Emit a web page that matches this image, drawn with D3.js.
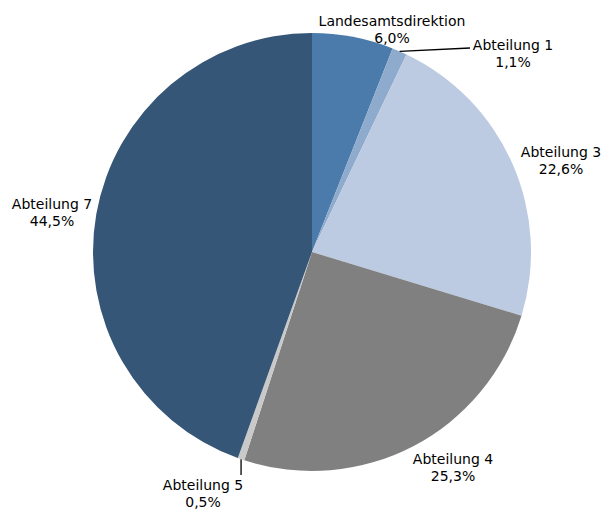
<!DOCTYPE html>
<html>
<head>
<meta charset="utf-8">
<script src="https://cdn.jsdelivr.net/npm/d3@7"></script>
<style>
  body { margin: 0; background: #fff; }
  text { font-family: "DejaVu Sans", Verdana, sans-serif; font-size: 14px; fill: #000; }
</style>
</head>
<body>
<svg id="chart"></svg>
<script>
var categories = ["Landesamtsdirektion", "Abteilung 1", "Abteilung 3", "Abteilung 4", "Abteilung 5", "Abteilung 7"];
var values = [6.0, 1.1, 22.6, 25.3, 0.5, 44.5];
var colors = ["#4b7bab", "#8eaacd", "#bccbe2", "#808080", "#c9c9c9", "#355677"];

var w = 606, h = 511;
var cx = 312, cy = 252, r = 219;

var svg = d3.select("#chart").attr("width", w).attr("height", h);
var g = svg.append("g").attr("transform", "translate(" + cx + "," + cy + ")");

var pie = d3.pie().sort(null).value(function (d) { return d; });
var arcs = pie(values);
var arc = d3.arc().innerRadius(0).outerRadius(r);

g.selectAll("path")
    .data(arcs)
    .enter()
    .append("path")
    .attr("d", arc)
    .style("fill", function (d, i) { return colors[i]; });

// label placement: label block centre relative to the pie centre (excel "best fit" look)
var labelPos = [
    { x: 80, y: -218 },
    { x: 201, y: -194, line: [158, -204] },
    { x: 249, y: -87 },
    { x: 141, y: 220 },
    { x: -109, y: 246, line: [0, 223] },
    { x: -260, y: -35 }
];

function edgePoint(d) {
    var a = (d.startAngle + d.endAngle) / 2;
    return [r * Math.sin(a), -r * Math.cos(a)];
}

// leader lines
arcs.forEach(function (d, i) {
    var p = labelPos[i];
    if (!p.line) return;
    var e = edgePoint(d);
    var end = i === 4 ? [e[0], p.line[1]] : p.line;
    g.append("line")
        .attr("x1", e[0]).attr("y1", e[1])
        .attr("x2", end[0]).attr("y2", end[1])
        .style("stroke", "#000")
        .style("stroke-width", 1.3);
});

var labels = g.selectAll("text.lbl")
    .data(arcs)
    .enter()
    .append("text")
    .attr("class", "lbl")
    .attr("text-anchor", "middle")
    .attr("transform", function (d, i) {
        return "translate(" + labelPos[i].x + "," + labelPos[i].y + ")";
    });

labels.append("tspan")
    .attr("x", 0).attr("dy", -8)
    .text(function (d, i) { return categories[i]; });
labels.append("tspan")
    .attr("x", 0).attr("dy", 16.5)
    .text(function (d) { return d3.format(".1f")(d.data).replace(".", ",") + "%"; });
</script>
</body>
</html>
